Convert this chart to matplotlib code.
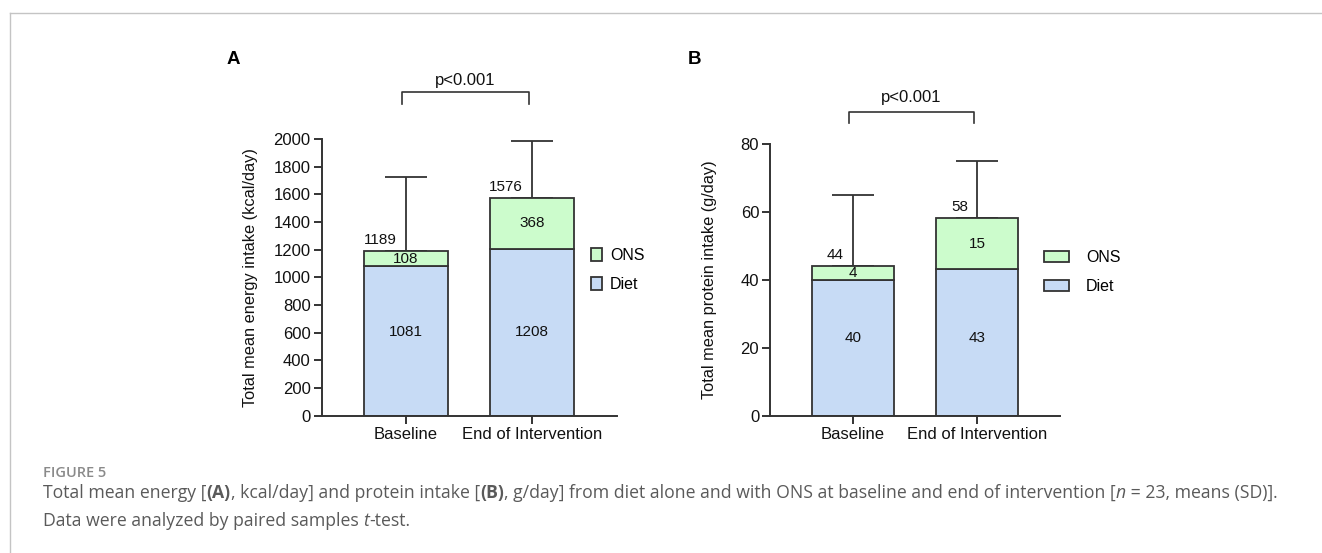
import numpy as np
import matplotlib
matplotlib.use("Agg")
import matplotlib.pyplot as plt
import matplotlib.transforms as mtransforms
from matplotlib.lines import Line2D

# ========= DATA =========

groups = ["Baseline", "End of Intervention"]

energy_diet = [1081, 1208]
energy_ons = [108, 368]
energy_total = [1189, 1576]
energy_sd = [535, 410]

protein_diet = [40, 43]
protein_ons = [4, 15]
protein_total = [44, 58]
protein_sd = [21, 17]

p_text = "p<0.001"

# ========= STYLE =========

plt.rcParams['font.family'] = ['Liberation Sans', 'DejaVu Sans']
diet_color = '#c7dbf5'
ons_color = '#ccfccc'
line_color = '#333333'
bar_width = 0.66
lw = 1.4

fig = plt.figure(figsize=(13.22, 5.53), dpi=100)

# page frame (top and left rule of the figure box)
fig.add_artist(Line2D([10 / 1322, 1.0], [1 - 13 / 553, 1 - 13 / 553],
                      transform=fig.transFigure, color='#c4c4c4', lw=1.0))
fig.add_artist(Line2D([10 / 1322, 10 / 1322], [0.0, 1 - 13 / 553],
                      transform=fig.transFigure, color='#c4c4c4', lw=1.0))


def draw_panel(ax, diet, ons, total, sd, ymax, ystep, ylabel, xlim,
               label_x, diet_label_y, bracket_y, text_y, leg_anchor,
               handle_len, handle_h, text_pad):
    x = np.arange(len(groups))
    b1 = ax.bar(x, diet, width=bar_width, color=diet_color,
                edgecolor=line_color, linewidth=1.3, label='Diet', zorder=2)
    b2 = ax.bar(x, ons, bottom=diet, width=bar_width, color=ons_color,
                edgecolor=line_color, linewidth=1.3, label='ONS', zorder=2)
    ax.errorbar(x, total, yerr=[np.zeros(len(sd)), sd], fmt='none',
                ecolor=line_color, elinewidth=1.3, capsize=15, capthick=1.3,
                zorder=1)

    ax.set_xlim(*xlim)
    ax.set_ylim(0, ymax)
    ax.set_yticks(np.arange(0, ymax + 1, ystep))
    ax.set_xticks(x)
    ax.set_xticklabels(groups)
    for s in ['top', 'right']:
        ax.spines[s].set_visible(False)
    for s in ['left', 'bottom']:
        ax.spines[s].set_linewidth(lw)
        ax.spines[s].set_color(line_color)
    ax.tick_params(axis='both', direction='out', length=5.5, width=lw,
                   color=line_color, labelsize=12, pad=2.5,
                   labelcolor='#111111')
    ax.set_ylabel(ylabel, fontsize=11.8, color='#111111')
    ax.yaxis.set_label_coords(label_x, 0.5)

    trans = mtransforms.blended_transform_factory(ax.transData, ax.transAxes)

    # value labels
    for i in range(len(groups)):
        ax.text(x[i], diet_label_y, str(diet[i]), transform=trans,
                ha='center', va='center', fontsize=11, color='#111111')
        ax.text(x[i], diet[i] + ons[i] / 2, str(ons[i]), ha='center',
                va='center', fontsize=11, color='#111111', zorder=3)
        ax.annotate(str(total[i]), (x[i], total[i]), xytext=(-6.5, 8),
                    textcoords='offset points', ha='right', va='center',
                    fontsize=11, color='#111111')

    # significance bracket
    xl, xr = x[0] - 0.035, x[1] - 0.025
    ax.plot([xl, xl, xr, xr], [bracket_y[1], bracket_y[0], bracket_y[0],
                               bracket_y[1]],
            transform=trans, color=line_color, lw=1.2, clip_on=False)
    ax.text((xl + xr) / 2, text_y, p_text, transform=trans, ha='center',
            va='center', fontsize=12, color='#111111')

    ax.legend(handles=[b2, b1], loc='upper left', bbox_to_anchor=leg_anchor,
              frameon=False, fontsize=11.5, borderpad=0, borderaxespad=0,
              handlelength=handle_len, handleheight=handle_h,
              handletextpad=text_pad, labelspacing=0.85)


ax_a = fig.add_axes([0.2433, 0.2483, 0.2234, 0.5004])
draw_panel(ax_a, energy_diet, energy_ons, energy_total, energy_sd,
           2000, 200, "Total mean energy intake (kcal/day)",
           (-0.669, 1.675), -0.216, 0.302, (1.170, 1.128), 1.212,
           (0.911, 0.606), 0.72, 0.92, 0.48)

ax_b = fig.add_axes([0.5827, 0.2483, 0.2191, 0.4919])
draw_panel(ax_b, protein_diet, protein_ons, protein_total, protein_sd,
           80, 20, "Total mean protein intake (g/day)",
           (-0.667, 1.669), -0.184, 0.287, (1.118, 1.075), 1.168,
           (0.945, 0.608), 1.57, 0.65, 1.05)

# panel letters
fig.text(227 / 1322, 1 - 60 / 553, "A", fontsize=13.5, fontweight='bold',
         ha='left', va='center')
fig.text(688 / 1322, 1 - 60 / 553, "B", fontsize=13.5, fontweight='bold',
         ha='left', va='center')

# ========= CAPTION =========

cap_font = ['Open Sans', 'DejaVu Sans']
cap_color = '#5a5a5a'
renderer = fig.canvas.get_renderer()


def rich_line(x, y, parts, size):
    for s, weight, style in parts:
        t = fig.text(x, y, s, fontsize=size, family=cap_font, color=cap_color,
                     fontweight=weight, fontstyle=style, ha='left',
                     va='center')
        x += t.get_window_extent(renderer).width / fig.bbox.width


fig.text(43 / 1322, 1 - 473 / 553, "FIGURE 5", fontsize=10.5, family=cap_font,
         color='#8a8a8a', fontweight='semibold', ha='left', va='center')

line1 = [
    ("Total mean energy [", 'normal', 'normal'),
    ("(A)", 'bold', 'normal'),
    (", kcal/day] and protein intake [", 'normal', 'normal'),
    ("(B)", 'bold', 'normal'),
    (", g/day] from diet alone and with ONS at baseline and end of "
     "intervention [", 'normal', 'normal'),
    ("n", 'normal', 'italic'),
    (" = 23, means (SD)].", 'normal', 'normal'),
]
line2 = [
    ("Data were analyzed by paired samples ", 'normal', 'normal'),
    ("t", 'normal', 'italic'),
    ("-test.", 'normal', 'normal'),
]
rich_line(43 / 1322, 1 - 493 / 553, line1, 12.7)
rich_line(43 / 1322, 1 - 521 / 553, line2, 12.7)

fig.savefig("out.png", dpi=100)
